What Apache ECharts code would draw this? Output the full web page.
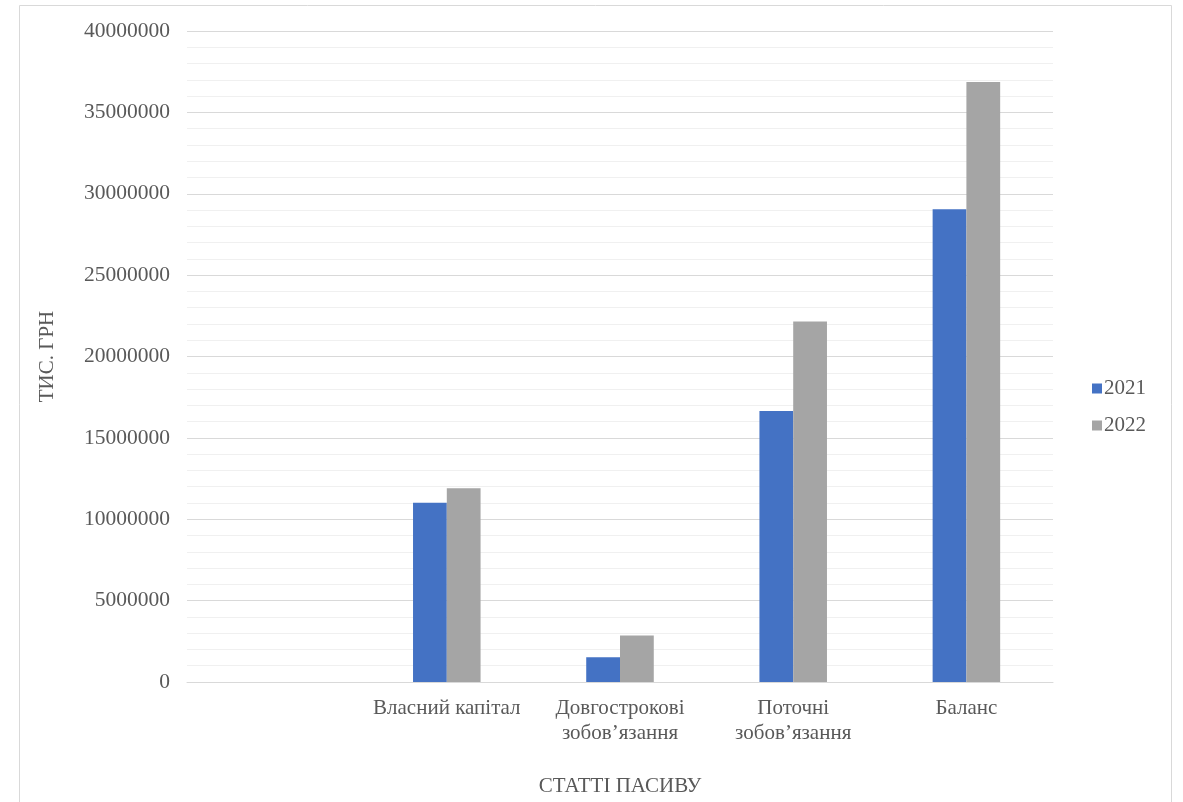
<!DOCTYPE html>
<html>
<head>
<meta charset="utf-8">
<script src="https://cdn.jsdelivr.net/npm/echarts@6/dist/echarts.min.js"></script>
<style>
html,body{margin:0;padding:0;background:#fff;}
#chart{width:1183px;height:802px;}
</style>
</head>
<body>
<div id="chart"></div>
<script>
const categories = ['', 'Власний капітал', 'Довгострокові\nзобов’язання', 'Поточні\nзобов’язання', 'Баланс'];
const seriesNames = ['2021', '2022'];
const values2021 = [null, 11020000, 1520000, 16650000, 29050000];
const values2022 = [null, 11900000, 2850000, 22150000, 36870000];
const yTicks = { min: 0, max: 40000000, interval: 5000000 };

const font = 'Liberation Serif, Times New Roman, serif';
const txt = '#595959';

const chart = echarts.init(document.getElementById('chart'));
chart.setOption({
  animation: false,
  backgroundColor: '#fff',
  graphic: [{
    type: 'rect',
    shape: { x: 19.5, y: 5.5, width: 1152, height: 830 },
    style: { fill: 'none', stroke: '#d9d9d9', lineWidth: 1 },
    silent: true
  }],
  grid: { left: 187, right: 130, top: 31, bottom: 120, containLabel: false },
  legend: {
    orient: 'vertical',
    left: 1087,
    top: 373,
    itemWidth: 10,
    itemHeight: 10,
    itemGap: 16,
    icon: 'rect',
    data: seriesNames,
    textStyle: { fontFamily: font, fontSize: 21, color: txt, padding: [0, 0, 0, -3] }
  },
  xAxis: {
    type: 'category',
    data: categories,
    name: 'СТАТТІ ПАСИВУ',
    nameLocation: 'middle',
    nameGap: 94,
    nameTextStyle: { fontFamily: font, fontSize: 21, color: txt },
    axisLine: { show: true, lineStyle: { color: '#d9d9d9' } },
    axisTick: { show: false },
    axisLabel: {
      interval: 0,
      fontFamily: font, fontSize: 21, color: txt, lineHeight: 25, margin: 14
    }
  },
  yAxis: {
    type: 'value',
    min: yTicks.min,
    max: yTicks.max,
    interval: yTicks.interval,
    name: 'ТИС. ГРН',
    nameLocation: 'middle',
    nameRotate: 90,
    nameGap: 129,
    nameTextStyle: { fontFamily: font, fontSize: 21, color: txt },
    axisLine: { show: false },
    axisTick: { show: false },
    axisLabel: {
      fontFamily: font, fontSize: 21.5, color: txt, margin: 17,
      formatter: function (v) { return String(v); }
    },
    splitLine: { show: true, lineStyle: { color: '#d9d9d9', width: 1 } },
    minorTick: { show: false, splitNumber: 5 },
    minorSplitLine: { show: true, lineStyle: { color: '#f0f0f0', width: 1 } }
  },
  series: [
    {
      name: seriesNames[0], type: 'bar', data: values2021,
      barGap: '0%', barCategoryGap: '61%',
      itemStyle: { color: '#4472C4' }
    },
    {
      name: seriesNames[1], type: 'bar', data: values2022,
      barGap: '0%', barCategoryGap: '61%',
      itemStyle: { color: '#A5A5A5' }
    }
  ]
});
</script>
</body>
</html>
